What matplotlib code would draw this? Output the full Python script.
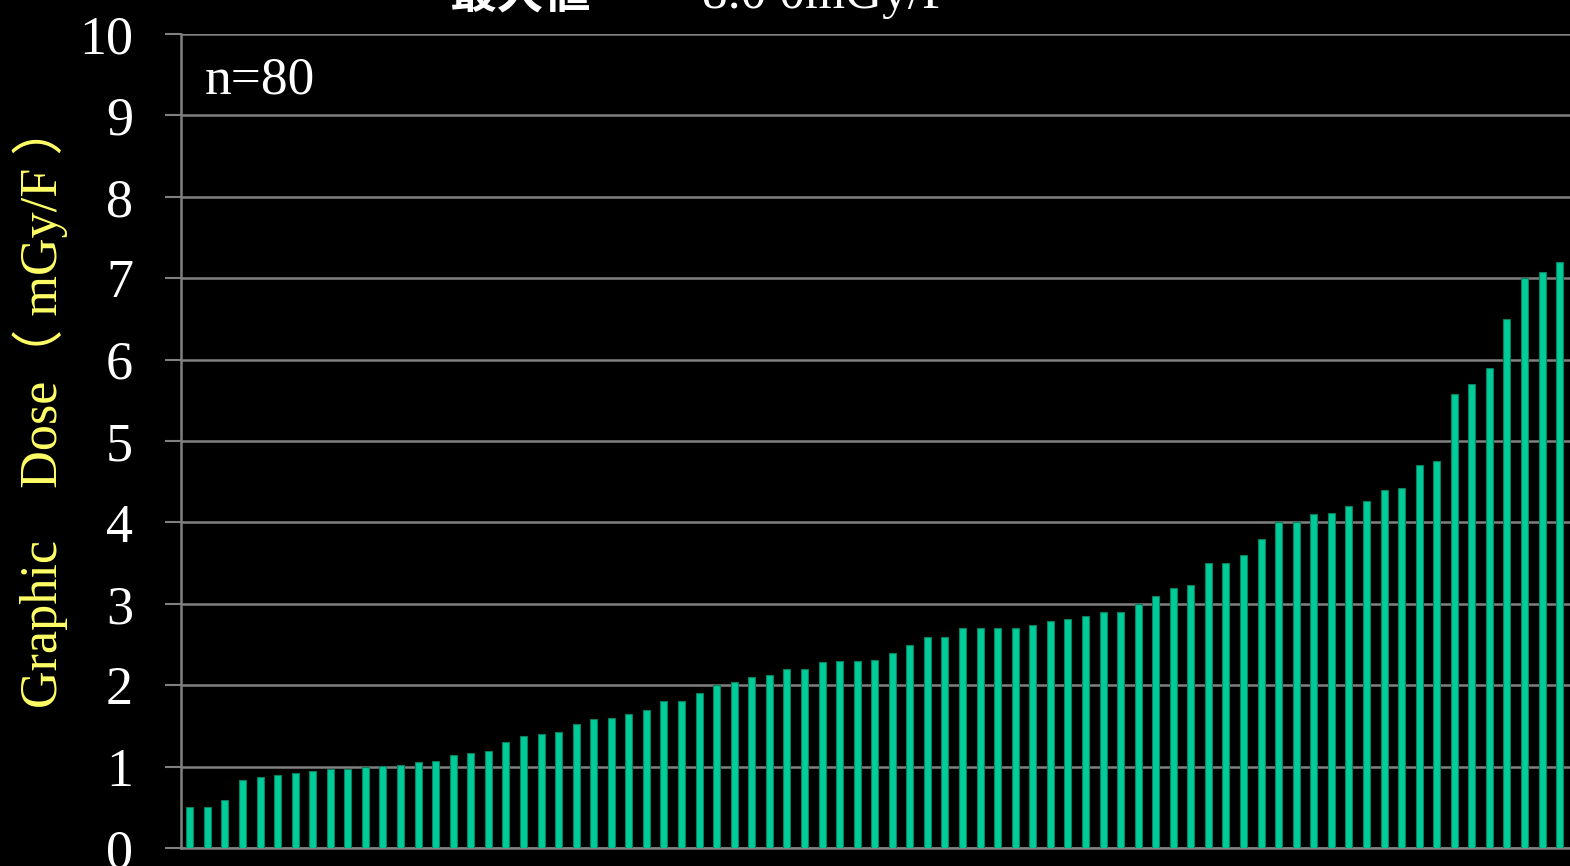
import matplotlib
matplotlib.use('Agg')
import matplotlib.pyplot as plt
import numpy as np

# dose per patient, sorted (n=80); the last bar (max 8.0) runs off the right edge
dose = [0.50, 0.50, 0.59, 0.83, 0.87, 0.90, 0.92, 0.94, 0.97, 0.97,
        1.00, 1.01, 1.02, 1.06, 1.07, 1.14, 1.17, 1.19, 1.30, 1.38,
        1.40, 1.42, 1.52, 1.58, 1.60, 1.65, 1.70, 1.80, 1.80, 1.90,
        2.00, 2.04, 2.10, 2.12, 2.20, 2.20, 2.28, 2.30, 2.30, 2.31,
        2.40, 2.50, 2.59, 2.59, 2.70, 2.70, 2.70, 2.70, 2.74, 2.79,
        2.81, 2.85, 2.90, 2.90, 3.00, 3.10, 3.20, 3.23, 3.50, 3.50,
        3.60, 3.80, 4.00, 4.00, 4.10, 4.11, 4.20, 4.26, 4.40, 4.42,
        4.70, 4.75, 5.58, 5.70, 5.90, 6.50, 7.00, 7.08, 7.20, 8.00]
yticks = [0, 1, 2, 3, 4, 5, 6, 7, 8, 9, 10]

serif = ['Liberation Serif', 'Noto Sans CJK JP']

fig = plt.figure(figsize=(15.7, 8.66), dpi=100, facecolor='black')
ax = fig.add_axes([181/1570, 18/866, 1405/1570, 814/866])
ax.set_facecolor('black')

x = np.arange(len(dose))
ax.bar(x, dose, width=0.4, color='#00CC99', edgecolor='#0B7F5E', linewidth=0.8, zorder=3)

ax.set_xlim(-0.5, len(dose) - 0.5)
ax.set_ylim(0, 10)
ax.set_yticks(yticks)
ax.set_yticklabels([str(t) for t in yticks], fontsize=39, color='white', family=serif)
ax.set_xticks([])
ax.tick_params(axis='y', direction='out', length=11.5, width=1.5, color='#808080', pad=23)
ax.yaxis.grid(True, color='#808080', linewidth=1.8, zorder=0)
for s in ['top', 'right']:
    ax.spines[s].set_visible(False)
for s in ['left', 'bottom']:
    ax.spines[s].set_color('#808080')
    ax.spines[s].set_linewidth(1.8)

fig.text(40/1570, 1 - 405/866, 'Graphic\u3000Dose\uff08 mGy/F \uff09', rotation=90,
         ha='center', va='center', fontsize=37.5, color='#FFFF66', family=serif)

fig.text(205/1570, 1 - 93/866, 'n=80', fontsize=38.5, color='white', family=serif,
         va='baseline', ha='left')

# title, mostly cut off at the top of the slide
fig.text(450/1570, 1 - 8/866, '最大値', fontsize=34, color='white', fontweight='bold',
         family=['Noto Sans CJK JP'], va='baseline', ha='left')
fig.text(702/1570, 1 - 8/866, '8.0 0mGy/F', fontsize=37, color='white', family=serif,
         va='baseline', ha='left')

fig.savefig('out.png', dpi=100, facecolor='black')
